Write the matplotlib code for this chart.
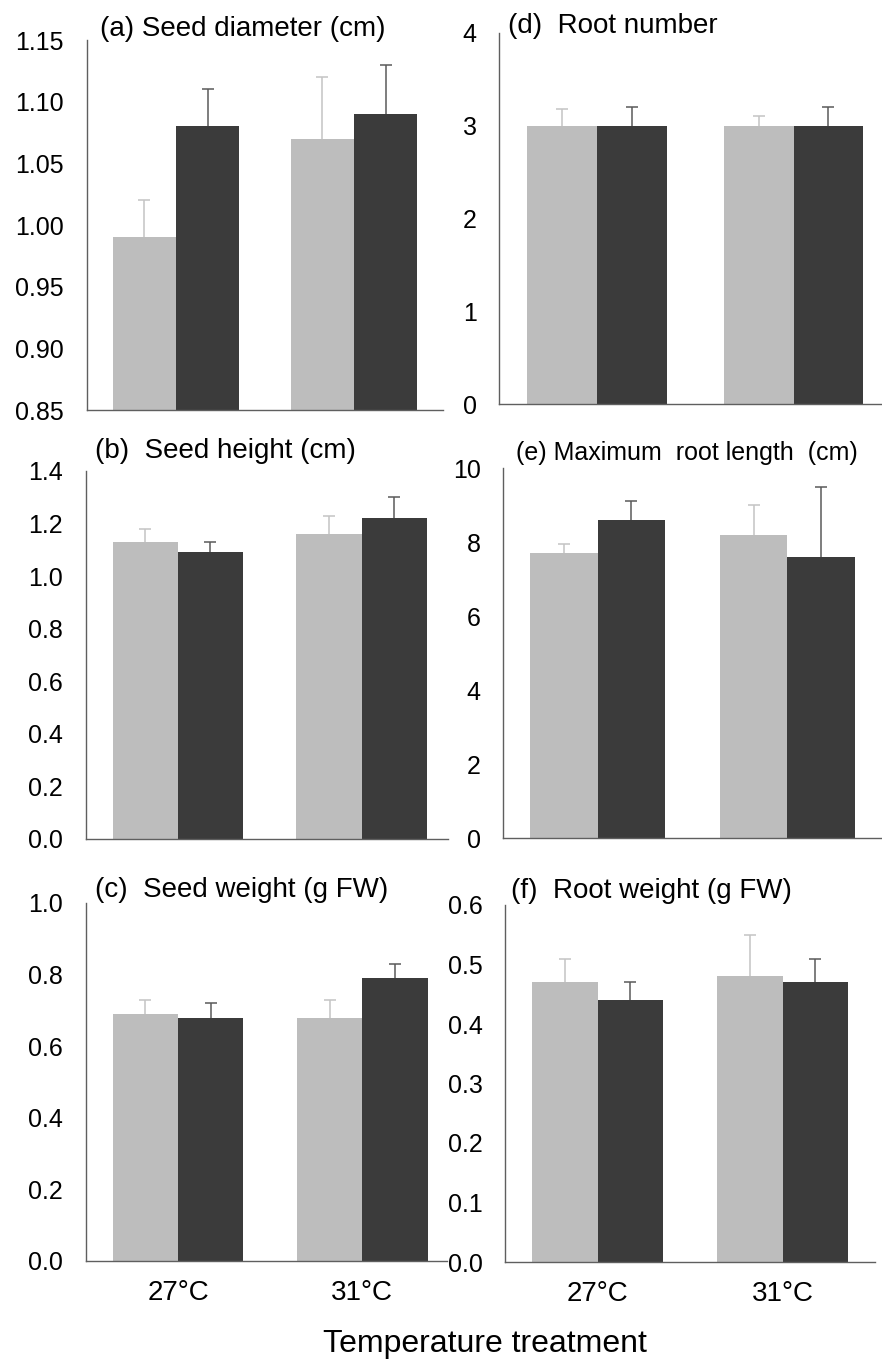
import numpy as np
import matplotlib
matplotlib.use("Agg")
import matplotlib.pyplot as plt
from matplotlib.ticker import FormatStrFormatter

plt.rcParams['font.family'] = ['Liberation Sans', 'DejaVu Sans']

groups = ['27°C', '31°C']

# (a) seed diameter
diam_light = [0.99, 1.07]
diam_light_err = [0.03, 0.05]
diam_dark = [1.08, 1.09]
diam_dark_err = [0.03, 0.04]

# (b) seed height
height_light = [1.13, 1.16]
height_light_err = [0.05, 0.07]
height_dark = [1.09, 1.22]
height_dark_err = [0.04, 0.08]

# (c) seed weight
sweight_light = [0.69, 0.68]
sweight_light_err = [0.04, 0.05]
sweight_dark = [0.68, 0.79]
sweight_dark_err = [0.04, 0.04]

# (d) root number
rnum_light = [3.0, 3.0]
rnum_light_err = [0.18, 0.11]
rnum_dark = [3.0, 3.0]
rnum_dark_err = [0.2, 0.2]

# (e) max root length
rlen_light = [7.7, 8.2]
rlen_light_err = [0.25, 0.8]
rlen_dark = [8.6, 7.6]
rlen_dark_err = [0.5, 1.9]

# (f) root weight
rweight_light = [0.47, 0.48]
rweight_light_err = [0.04, 0.07]
rweight_dark = [0.44, 0.47]
rweight_dark_err = [0.03, 0.04]

W, H = 882, 1361
fig = plt.figure(figsize=(W / 100, H / 100), dpi=100)

LIGHT = '#bdbdbd'
DARK = '#3b3b3b'
LIGHT_ERR = '#c4c4c4'
DARK_ERR = '#5a5a5a'
SPINE = '#5f5f5f'
bw = 0.355


def make_ax(l, r, t, b):
    return fig.add_axes([l / W, 1 - b / H, (r - l) / W, (b - t) / H])


def up_err(ax, x, y, e, color):
    # only the upper half of the error bar, no cap at the bar top
    _, caps, _ = ax.errorbar(x, y, yerr=[np.zeros(len(y)), e], fmt='none',
                             ecolor=color, elinewidth=1.1, capsize=4,
                             capthick=1.1, zorder=1)
    caps[0].set_visible(False)


def panel(rect, xlim, light, light_err, dark, dark_err, ylim, yticks, fmt,
          title, tpos, show_x=False, pad=17, tsize=20):
    ax = make_ax(*rect)
    x = np.arange(len(groups))
    ax.bar(x - bw / 2, light, bw, color=LIGHT, zorder=2)
    ax.bar(x + bw / 2, dark, bw, color=DARK, zorder=2)
    up_err(ax, x - bw / 2, light, light_err, LIGHT_ERR)
    up_err(ax, x + bw / 2, dark, dark_err, DARK_ERR)
    ax.set_xlim(*xlim)
    ax.set_ylim(*ylim)
    ax.set_yticks(yticks)
    if fmt:
        ax.yaxis.set_major_formatter(FormatStrFormatter(fmt))
    for s in ['top', 'right']:
        ax.spines[s].set_visible(False)
    for s in ['left', 'bottom']:
        ax.spines[s].set_color(SPINE)
        ax.spines[s].set_linewidth(1.0)
    ax.tick_params(axis='y', length=0, pad=pad, labelsize=18)
    ax.set_xticks(x)
    if show_x:
        ax.set_xticklabels(groups, fontsize=20)
        ax.tick_params(axis='x', length=0, pad=14)
    else:
        ax.set_xticklabels([])
        ax.tick_params(axis='x', length=0)
    fig.text(tpos[0] / W, 1 - tpos[1] / H, title, fontsize=tsize,
             va='baseline', ha='left')
    return ax


panel((87, 443, 40, 410), (-0.5, 1.5), diam_light, diam_light_err,
      diam_dark, diam_dark_err, (0.85, 1.15),
      np.arange(0.85, 1.151, 0.05), '%.2f',
      '(a) Seed diameter (cm)', (100, 36))

panel((86, 448, 471, 839), (-0.5, 1.47), height_light, height_light_err,
      height_dark, height_dark_err, (0, 1.4),
      np.arange(0, 1.41, 0.2), '%.1f',
      '(b)  Seed height (cm)', (95, 458))

panel((86, 447, 903, 1261), (-0.5, 1.46), sweight_light, sweight_light_err,
      sweight_dark, sweight_dark_err, (0, 1.0),
      np.arange(0, 1.01, 0.2), '%.1f',
      '(c)  Seed weight (g FW)', (95, 897), show_x=True)

panel((499, 882, 33, 404), (-0.5, 1.45), rnum_light, rnum_light_err,
      rnum_dark, rnum_dark_err, (0, 4),
      [0, 1, 2, 3, 4], '%d',
      '(d)  Root number', (508, 33), pad=16)

panel((503, 882, 468, 838), (-0.5, 1.5), rlen_light, rlen_light_err,
      rlen_dark, rlen_dark_err, (0, 10),
      [0, 2, 4, 6, 8, 10], '%d',
      '(e) Maximum  root length  (cm)', (516, 460), pad=16, tsize=18)

panel((505, 875, 905, 1262), (-0.5, 1.5), rweight_light, rweight_light_err,
      rweight_dark, rweight_dark_err, (0, 0.6),
      np.arange(0, 0.61, 0.1), '%.1f',
      '(f)  Root weight (g FW)', (511, 898), show_x=True, pad=16)

fig.text(485 / W, 1 - 1352 / H, 'Temperature treatment', fontsize=23,
         ha='center', va='baseline')

fig.savefig('out.png', dpi=100)
